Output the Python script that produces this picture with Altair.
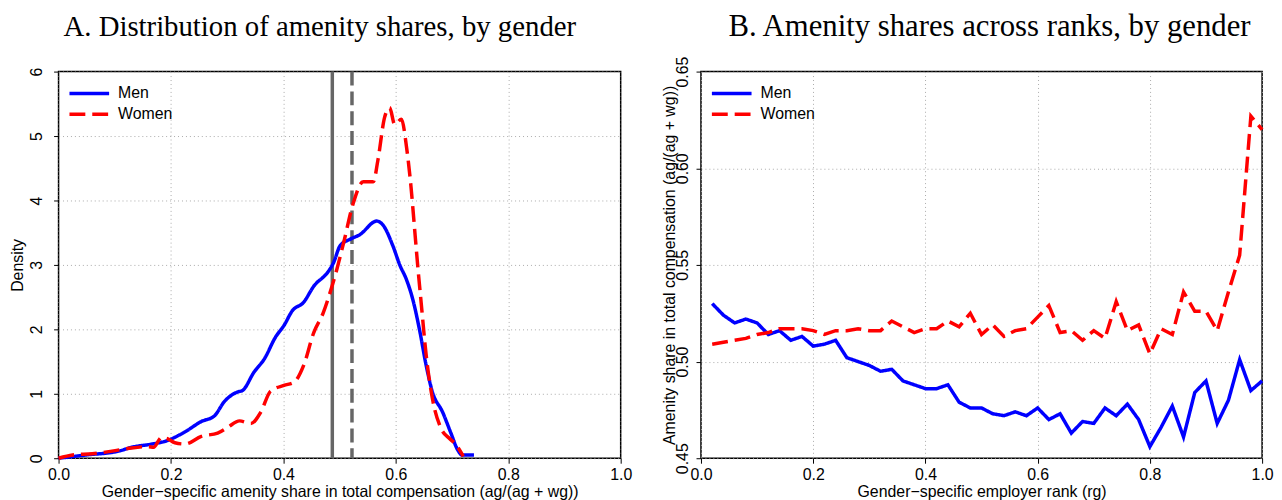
import altair as alt
import pandas as pd

SANS = "Liberation Sans"
SERIF = "Liberation Serif"

# ---------------- Panel A data: kernel densities ----------------
men_share_x = [0.000, 0.048, 0.107, 0.130, 0.166, 0.192, 0.225, 0.254, 0.277, 0.295,
               0.319, 0.327, 0.348, 0.366, 0.386, 0.401, 0.416, 0.436, 0.454, 0.480,
               0.489, 0.501, 0.519, 0.536, 0.566, 0.577, 0.595, 0.607, 0.619, 0.630,
               0.642, 0.654, 0.665, 0.683, 0.698, 0.710, 0.718, 0.739]
men_density = [0.00, 0.05, 0.11, 0.17, 0.22, 0.27, 0.41, 0.57, 0.655, 0.88,
               1.03, 1.05, 1.34, 1.54, 1.88, 2.06, 2.29, 2.42, 2.67, 2.90,
               3.03, 3.30, 3.40, 3.47, 3.68, 3.62, 3.29, 3.00, 2.77, 2.47,
               2.00, 1.44, 1.03, 0.72, 0.39, 0.13, 0.05, 0.05]

women_share_x = [0.000, 0.025, 0.060, 0.095, 0.130, 0.160, 0.169, 0.183, 0.192, 0.207,
                 0.225, 0.254, 0.283, 0.301, 0.322, 0.342, 0.360, 0.377, 0.401, 0.419,
                 0.436, 0.454, 0.471, 0.483, 0.495, 0.507, 0.524, 0.542, 0.560, 0.568,
                 0.580, 0.589, 0.598, 0.610, 0.619, 0.627, 0.633, 0.639, 0.645, 0.654,
                 0.665, 0.680, 0.695, 0.707, 0.720]
women_density = [0.00, 0.05, 0.07, 0.11, 0.16, 0.18, 0.17, 0.32, 0.31, 0.24,
                 0.22, 0.34, 0.39, 0.48, 0.58, 0.54, 0.72, 1.04, 1.13, 1.18,
                 1.44, 1.95, 2.26, 2.57, 2.93, 3.34, 3.95, 4.29, 4.29, 4.62,
                 5.29, 5.44, 5.18, 5.26, 4.83, 4.21, 3.60, 2.98, 2.42, 1.60,
                 0.93, 0.47, 0.31, 0.21, 0.03]

mean_men = 0.487
mean_women = 0.522

# ---------------- Panel B data: shares across ranks ----------------
rank = [0.02, 0.04, 0.06, 0.08, 0.10, 0.12, 0.14, 0.16, 0.18, 0.20,
        0.22, 0.24, 0.26, 0.28, 0.30, 0.32, 0.34, 0.36, 0.38, 0.40,
        0.42, 0.44, 0.46, 0.48, 0.50, 0.52, 0.54, 0.56, 0.58, 0.60,
        0.62, 0.64, 0.66, 0.68, 0.70, 0.72, 0.74, 0.76, 0.78, 0.80,
        0.82, 0.84, 0.86, 0.88, 0.90, 0.92, 0.94, 0.96, 0.98, 1.00]
men_rank_share = [0.530, 0.524, 0.520, 0.522, 0.520, 0.514, 0.516, 0.511, 0.513, 0.508,
                  0.509, 0.511, 0.502, 0.500, 0.498, 0.495, 0.496, 0.490, 0.488, 0.486,
                  0.486, 0.488, 0.479, 0.476, 0.476, 0.473, 0.472, 0.474, 0.472, 0.476,
                  0.470, 0.473, 0.463, 0.469, 0.468, 0.476, 0.472, 0.478, 0.470, 0.456,
                  0.466, 0.477, 0.461, 0.484, 0.490, 0.468, 0.480, 0.501, 0.485, 0.490]
women_rank_share = [0.509, 0.510, 0.511, 0.512, 0.514, 0.515, 0.517, 0.517, 0.517, 0.516,
                    0.514, 0.516, 0.516, 0.517, 0.516, 0.516, 0.521, 0.518, 0.515, 0.517,
                    0.517, 0.521, 0.518, 0.525, 0.514, 0.519, 0.513, 0.516, 0.517, 0.523,
                    0.529, 0.515, 0.516, 0.511, 0.516, 0.512, 0.531, 0.516, 0.519, 0.504,
                    0.517, 0.514, 0.536, 0.526, 0.526, 0.516, 0.536, 0.555, 0.627, 0.620]

groups = ["Men", "Women"]

dens = pd.concat([
    pd.DataFrame({"x": men_share_x, "y": men_density, "g": "Men", "o": range(len(men_share_x))}),
    pd.DataFrame({"x": women_share_x, "y": women_density, "g": "Women", "o": range(len(women_share_x))}),
])
ranks = pd.concat([
    pd.DataFrame({"x": rank, "y": men_rank_share, "g": "Men", "o": range(len(rank))}),
    pd.DataFrame({"x": rank, "y": women_rank_share, "g": "Women", "o": range(len(rank))}),
])
means = pd.DataFrame({"m": [mean_men], "w": [mean_women]})

W, H = 567, 390

# a short horizontal stroke drawn 40px long (custom path scaled by sqrt(size)/2 = 5)
legend = alt.Legend(orient="none", legendX=-2, legendY=4, title=None,
                    symbolType="M-1,0H7", symbolSize=100, symbolStrokeWidth=3.5,
                    labelFont=SANS, labelFontSize=16, labelColor="black",
                    labelOffset=36, rowPadding=5, padding=10)
color = alt.Color("g:N", scale=alt.Scale(domain=groups, range=["#0000ff", "#ff0000"]), legend=legend)
dash = alt.StrokeDash("g:N", scale=alt.Scale(domain=groups, range=[[1, 0], [16, 7]]), legend=legend)

def xaxis(title):
    return alt.Axis(title=title, values=[0, 0.2, 0.4, 0.6, 0.8, 1.0], format=".1f",
                    labelFontSize=16, titleFontSize=16, labelPadding=3, titlePadding=2,
                    labelFlush=False)

# ---------------- Panel A ----------------
xa = alt.X("x:Q", scale=alt.Scale(domain=[0, 1], nice=False),
           axis=xaxis("Gender\u2212specific amenity share in total compensation (ag/(ag + wg))"))
ya = alt.Y("y:Q", scale=alt.Scale(domain=[0, 6], nice=False),
           axis=alt.Axis(title="Density", values=[0, 1, 2, 3, 4, 5, 6], format="d",
                         labelAngle=-90, labelAlign="center", labelBaseline="bottom",
                         labelFontSize=16, titleFontSize=16, labelPadding=9, titlePadding=3,
                         labelFlush=False))

lines_a = alt.Chart(dens).mark_line(strokeWidth=3.5, interpolate="monotone").encode(
    x=xa, y=ya, color=color, strokeDash=dash, order="o:Q")
rule_m = alt.Chart(means).mark_rule(color="#666666", strokeWidth=3.5).encode(x="m:Q")
rule_w = alt.Chart(means).mark_rule(color="#666666", strokeWidth=3.5, strokeDash=[14, 6]).encode(x="w:Q")

panel_a = alt.layer(rule_m, rule_w, lines_a).properties(
    width=W, height=H,
    title=alt.TitleParams("A. Distribution of amenity shares, by gender", font=SERIF,
                          fontSize=29, fontWeight="normal", color="black",
                          anchor="middle", dx=-20, offset=25))

# ---------------- Panel B ----------------
xb = alt.X("x:Q", scale=alt.Scale(domain=[0, 1], nice=False),
           axis=xaxis("Gender\u2212specific employer rank (rg)"))
yb = alt.Y("y:Q", scale=alt.Scale(domain=[0.45, 0.65], nice=False, zero=False),
           axis=alt.Axis(title="Amenity share in total compensation (ag/(ag + wg))",
                         values=[0.45, 0.50, 0.55, 0.60, 0.65], format=".2f",
                         labelAngle=-90, labelAlign="center", labelBaseline="bottom",
                         labelFontSize=16, titleFontSize=16, labelPadding=6, titlePadding=-3,
                         labelFlush=False))

panel_b = alt.Chart(ranks).mark_line(strokeWidth=3.5).encode(
    x=xb, y=yb, color=color, strokeDash=dash, order="o:Q"
).properties(
    width=W - 1, height=H,
    title=alt.TitleParams("B. Amenity shares across ranks, by gender", font=SERIF,
                          fontSize=31, fontWeight="normal", color="black",
                          anchor="middle", dx=8, offset=13))

chart = alt.hconcat(panel_a, panel_b, spacing=28).resolve_scale(
    color="independent", strokeDash="independent"
).resolve_legend(color="independent", strokeDash="independent").properties(
    padding={"left": 1, "top": 0, "right": 0, "bottom": 0}
).configure_view(stroke="black", strokeWidth=1.5).configure_axis(
    labelFont=SANS, titleFont=SANS, labelColor="black", titleColor="black",
    titleFontWeight="normal", domain=False, tickColor="black", tickSize=5, tickWidth=1,
    gridColor="#aaaaaa", gridDash=[1, 3], gridWidth=1
)

chart.save("out.html", embed_options={"renderer": "svg", "actions": False})
